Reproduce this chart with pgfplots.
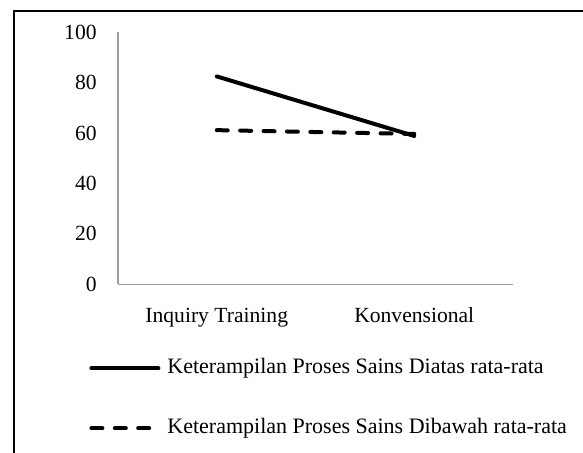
\documentclass[border=0pt]{standalone}
\usepackage{fontspec}
\setmainfont{Liberation Serif}
\usepackage{pgfplots}
\pgfplotsset{compat=1.18}
\definecolor{axisgray}{RGB}{160,160,160}
\pgfplotstableread{
x y
0 82.4
1 58.8
}\above
\pgfplotstableread{
x y
0 61.1
1 59.6
}\below
\begin{document}
\begin{tikzpicture}
\useasboundingbox (0,0) rectangle (291.5pt,226pt);
\fill[white] (0,0) rectangle (291.5pt,226pt);
\begin{scope}
\clip (0,0) rectangle (291.5pt,226pt);
\draw[line width=1pt] (7pt,220.5pt) rectangle (310pt,-20pt);
\end{scope}
\begin{axis}[
  at={(59pt,83.85pt)}, anchor=south west,
  scale only axis, width=197.5pt, height=126.15pt,
  xmin=-0.5, xmax=1.5, ymin=0, ymax=100,
  axis lines*=left,
  axis line style={draw=axisgray, line width=0.75pt},
  major tick length=0pt,
  xtick={0,1}, xticklabels={Inquiry Training, Konvensional},
  ytick={0,20,40,60,80,100},
  /pgf/number format/assume math mode=true,
  every tick label/.append style={font=\fontsize{10.8}{13}\selectfont},
  yticklabel style={anchor=east, inner sep=0pt, xshift=-10.5pt},
  xticklabel style={anchor=base, inner sep=0pt, yshift=-19.2pt},
  legend style={draw=none, fill=none, inner sep=0pt,
    at={(-0.0734,-0.296)}, anchor=north west,
    font=\fontsize{11}{13}\selectfont,
    nodes={inner sep=0pt, text height=7pt, text depth=2pt},
    row sep=21pt, column sep=3.5pt},
  legend cell align=left,
  legend image code/.code={\draw[#1] (0pt,0pt) -- (33.5pt,0pt);},
  clip=false,
]
\addplot[black, line width=2pt, line cap=round] table[x=x,y=y] {\above};
\addlegendentry{Keterampilan Proses Sains Diatas rata-rata}
\addplot[black, line width=2pt, line cap=round, dash pattern=on 5.5pt off 6.2pt] table[x=x,y=y] {\below};
\addlegendentry{Keterampilan Proses Sains Dibawah rata-rata}
\end{axis}
\end{tikzpicture}
\end{document}
